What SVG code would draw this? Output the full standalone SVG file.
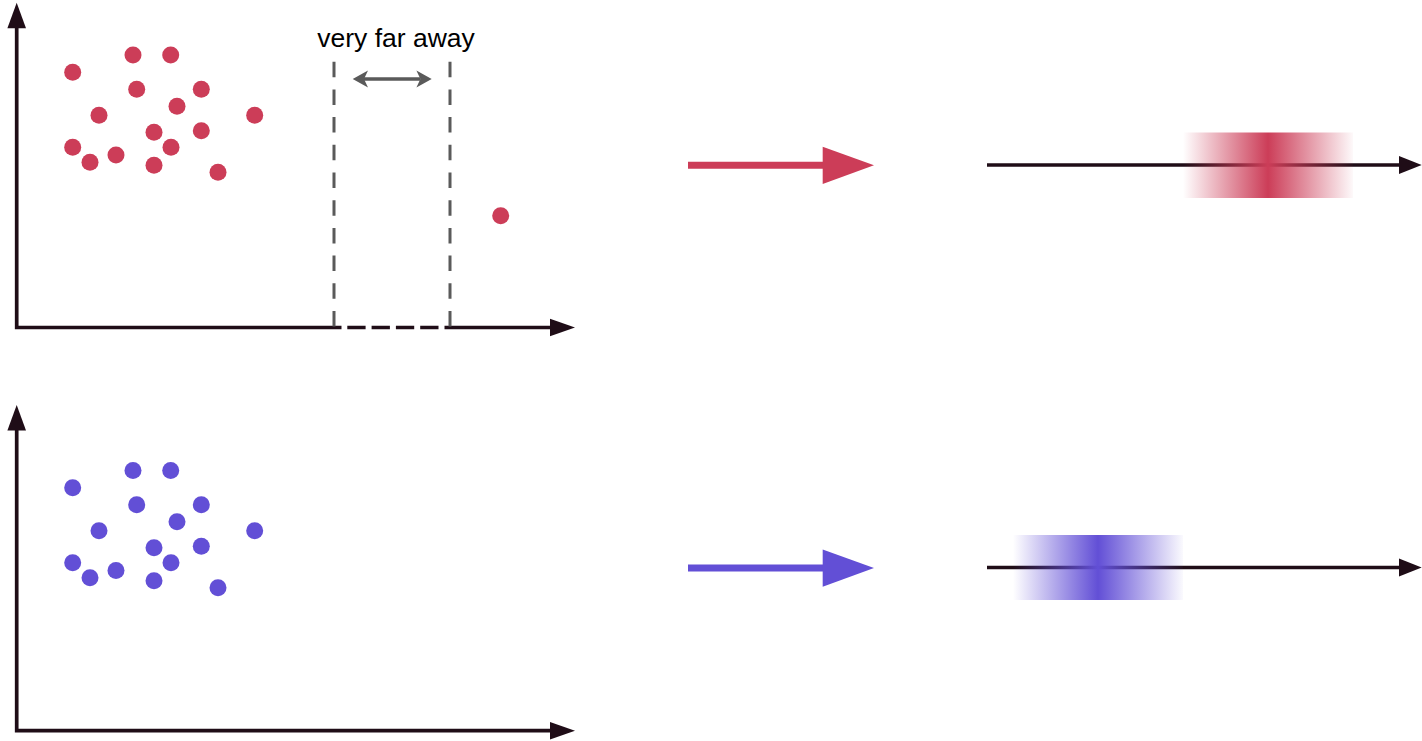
<svg xmlns="http://www.w3.org/2000/svg" width="1422" height="741" viewBox="0 0 1422 741">
  <style>
    .axis { stroke: #1f0d17; stroke-width: 3.7; fill: none; }
    .head { fill: #1f0d17; }
    .guide { stroke: #5a5a5a; stroke-width: 3; fill: none; stroke-dasharray: 15.5 12.2; }
    .red { fill: #cc3d58; }
    .blue { fill: #624fd6; }
    .label { font-family: "Liberation Sans", Arial, sans-serif; font-size: 26.5px; fill: #000; }
  </style>
  <defs>
    <linearGradient id="fadeRed" x1="0" y1="0" x2="1" y2="0">
      <stop offset="0" stop-color="#cc3d58" stop-opacity="0"/>
      <stop offset="0.5" stop-color="#cc3d58" stop-opacity="1"/>
      <stop offset="1" stop-color="#cc3d58" stop-opacity="0.03"/>
    </linearGradient>
    <linearGradient id="fadeBlue" x1="0" y1="0" x2="1" y2="0">
      <stop offset="0" stop-color="#624fd6" stop-opacity="0"/>
      <stop offset="0.5" stop-color="#624fd6" stop-opacity="1"/>
      <stop offset="1" stop-color="#624fd6" stop-opacity="0.03"/>
    </linearGradient>
    <g id="cluster">
      <circle cx="72.7" cy="72.3" r="8.5"/>
      <circle cx="133" cy="55" r="8.5"/>
      <circle cx="170.7" cy="55" r="8.5"/>
      <circle cx="136.7" cy="89.3" r="8.5"/>
      <circle cx="201.3" cy="89.3" r="8.5"/>
      <circle cx="177" cy="106.3" r="8.5"/>
      <circle cx="99" cy="115.3" r="8.5"/>
      <circle cx="254.7" cy="115.3" r="8.5"/>
      <circle cx="154" cy="132.3" r="8.5"/>
      <circle cx="201.3" cy="130.7" r="8.5"/>
      <circle cx="72.7" cy="147.3" r="8.5"/>
      <circle cx="171" cy="147.3" r="8.5"/>
      <circle cx="90" cy="162.3" r="8.5"/>
      <circle cx="116" cy="155" r="8.5"/>
      <circle cx="154" cy="165.3" r="8.5"/>
      <circle cx="218" cy="172.3" r="8.5"/>
    </g>
  </defs>

  <!-- upper scatter plot with an outlier -->
  <g id="plot-outlier">
    <path class="axis" d="M16.7 27 V327.5 H551"/>
    <polygon class="head" points="16.7,2.7 26,28.3 7.4,28.3"/>
    <polygon class="head" points="575,327.5 550,318.8 550,336.2"/>
    <use href="#cluster" class="red"/>
    <circle class="red" cx="500.7" cy="215.7" r="8.5"/>
    <!-- distance marker -->
    <line class="guide" x1="334" y1="61.7" x2="334" y2="327"/>
    <line class="guide" x1="450" y1="61.7" x2="450" y2="327"/>
    <rect x="341.5" y="324" width="103" height="7" fill="#fff"/>
    <line x1="347.3" y1="327.5" x2="438.6" y2="327.5" stroke="#1f0d17" stroke-width="3.7" stroke-dasharray="18.3 6"/>
    <line x1="364" y1="79" x2="420.5" y2="79" stroke="#5a5a5a" stroke-width="3.5"/>
    <polygon fill="#5a5a5a" points="352.7,79 368,70.5 364,79 368,87.5"/>
    <polygon fill="#5a5a5a" points="431.7,79 416.4,70.5 420.4,79 416.4,87.5"/>
    <text class="label" x="396" y="46.5" text-anchor="middle">very far away</text>
  </g>

  <!-- lower scatter plot without outlier -->
  <g id="plot-clean">
    <path class="axis" d="M16.7 430 V730.7 H551"/>
    <polygon class="head" points="16.7,405 26,430.6 7.4,430.6"/>
    <polygon class="head" points="575,730.7 550,722 550,739.4"/>
    <use href="#cluster" class="blue" transform="translate(0,415.5)"/>
  </g>

  <!-- 1D projection, upper -->
  <g id="line-outlier">
    <line class="axis" x1="987" y1="165" x2="1400" y2="165"/>
    <polygon class="head" points="1421.7,165 1399,156 1399,174"/>
    <rect x="1183" y="132.5" width="170" height="65.5" fill="url(#fadeRed)"/>
  </g>

  <!-- 1D projection, lower -->
  <g id="line-clean">
    <line class="axis" x1="987" y1="567.5" x2="1400" y2="567.5"/>
    <polygon class="head" points="1421.7,567.5 1399,558.5 1399,576.5"/>
    <rect x="1013" y="535" width="170" height="65" fill="url(#fadeBlue)"/>
  </g>

  <!-- mapping arrows -->
  <g id="connectors">
    <line x1="688" y1="165.3" x2="824" y2="165.3" stroke="#cc3d58" stroke-width="7"/>
    <polygon class="red" points="822.7,146.7 874,165.3 822.7,184"/>
    <line x1="688" y1="568" x2="824" y2="568" stroke="#624fd6" stroke-width="7"/>
    <polygon class="blue" points="822.7,549.4 874,568 822.7,586.7"/>
  </g>
</svg>
